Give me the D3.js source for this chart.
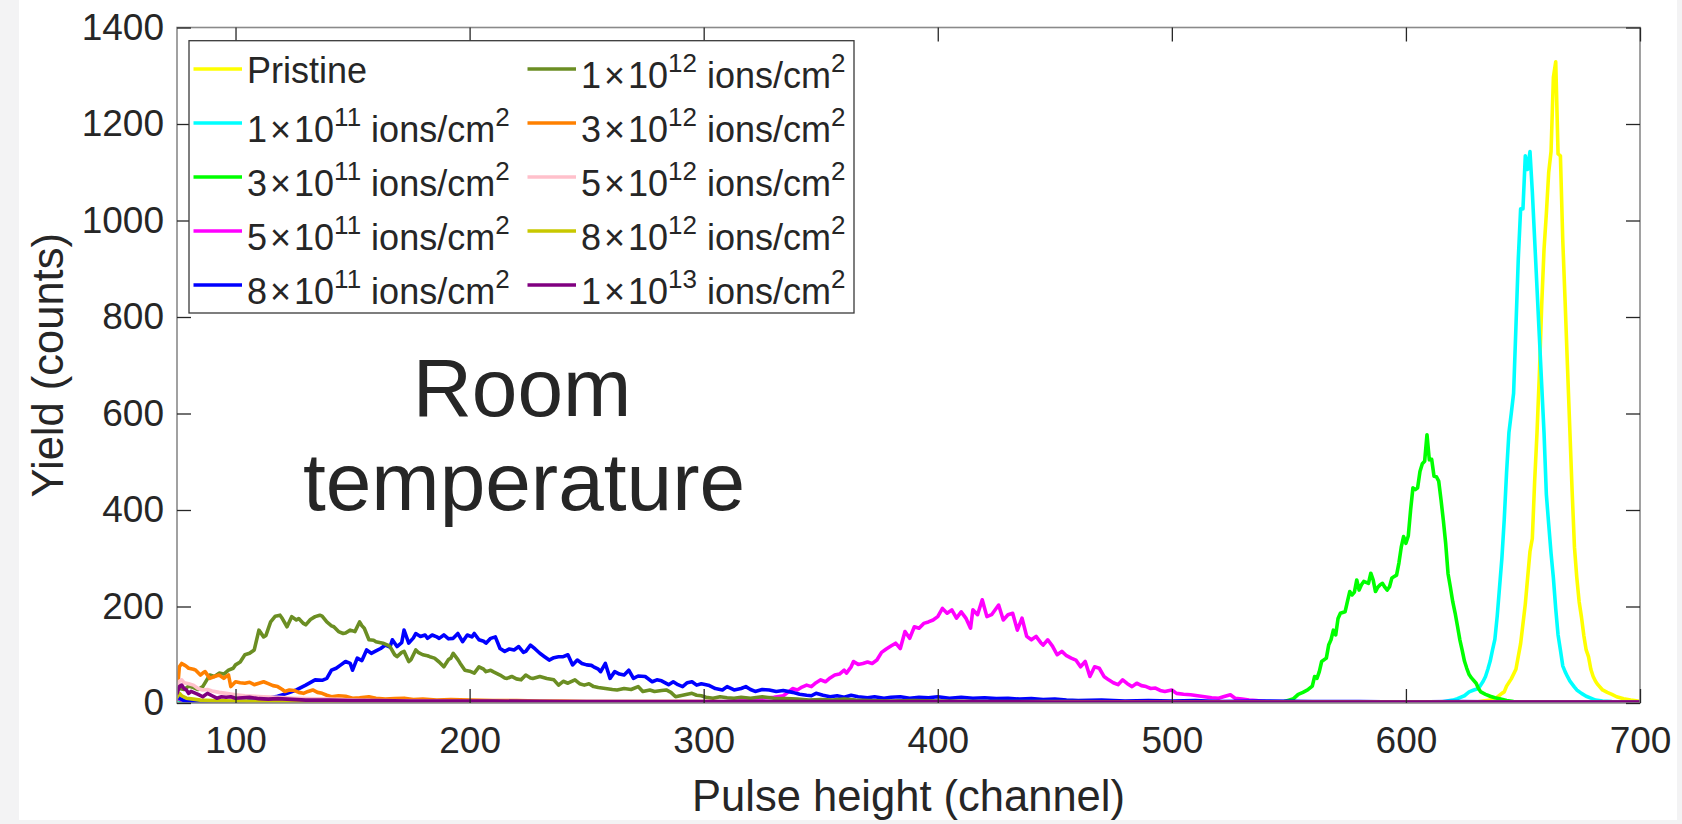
<!DOCTYPE html>
<html>
<head>
<meta charset="utf-8">
<script src="https://cdn.jsdelivr.net/npm/d3@7"></script>
<style>
  html, body { margin: 0; padding: 0; background: #f3f3f4; }
  svg { display: block; }
  text { font-family: "Liberation Sans", Arial, Helvetica, sans-serif; fill: #262626; }
</style>
</head>
<body>
<svg id="chart" width="1682" height="824"></svg>
<script>
// ---------------- DATA ----------------
const xTicks = [100, 200, 300, 400, 500, 600, 700];
const yTicks = [0, 200, 400, 600, 800, 1000, 1200, 1400];
const xDomain = [75, 700];
const yDomain = [0, 1400];

const seriesNames = ["Pristine", "1e11", "3e11", "5e11", "8e11", "1e12", "3e12", "5e12", "8e12", "1e13"];
const seriesColors = ["#ffff00", "#00ffff", "#00ff00", "#ff00ff", "#0000ff", "#6b8e23", "#ff8000", "#ffc0cb", "#c8c800", "#800080"];
// legend labels: [mantissa, exponent] (null => plain text)
const legendMant = [null, "1", "3", "5", "8", "1", "3", "5", "8", "1"];
const legendExp = [null, "11", "11", "11", "11", "12", "12", "12", "12", "13"];

const pristine = [[75,8],[77,4],[80,2],[100,1],[200,1],[300,1],[400,1],[500,1],[600,1],[630,2],[636,6],[639,12],[641,20],[642,23],[643,35],[645,50],[647,70],[649,123],[651,205],[652,260],[653,314],[654,341],[655,460],[656,560],[657,680],[658,824],[659,940],[660,1015],[661,1100],[662,1143],[663,1297],[664,1329],[665,1138],[666,1134],[667,960],[668,833],[669,700],[670,569],[671,440],[672,323],[673,260],[674,210],[675,178],[676,140],[677,110],[678,96],[679,70],[680,55],[681,45],[682,38],[684,27],[686,22],[688,18],[690,13],[693,9],[696,6],[699,4],[700,3]];

const ions1e11 = [[75,8],[76,5],[78,2],[90,1],[200,1],[300,1],[400,1],[500,1],[600,1],[615,2],[620,6],[622,9],[625,15],[627,23],[629,27],[631,30],[633,45],[634,55],[635,70],[636,87],[637,110],[638,132],[639,180],[640,240],[641,300],[642,380],[643,478],[644,560],[645,600],[646,642],[647,780],[648,920],[649,1024],[650,1024],[651,1134],[652,1106],[653,1143],[654,1060],[655,960],[656,860],[657,760],[658,660],[659,560],[660,432],[661,370],[662,310],[663,259],[664,195],[665,141],[666,110],[667,77],[668,65],[669,55],[670,46],[672,33],[673,27],[675,20],[677,14],[679,10],[681,6],[684,4],[688,3],[700,2]];

const ions3e11 = [[75,10],[77,5],[80,2],[100,1],[200,1],[300,1],[400,1],[500,1],[540,1],[545,2],[548,3],[550,6],[552,9],[554,18],[556,22],[558,27],[560,35],[561,55],[562,51],[563,65],[564,86],[566,93],[567,120],[568,131],[569,151],[570,141],[571,175],[572,186],[574,189],[575,210],[576,231],[577,224],[578,230],[579,255],[580,234],[581,245],[582,252],[584,248],[585,269],[586,255],[587,231],[588,240],[589,245],[590,248],[591,240],[592,234],[593,241],[594,259],[595,262],[596,265],[597,290],[598,323],[599,345],[600,331],[601,346],[602,400],[603,446],[604,442],[605,446],[606,480],[607,496],[608,501],[609,556],[610,504],[611,505],[612,470],[613,469],[614,460],[615,421],[616,378],[617,330],[618,268],[619,240],[620,210],[621,187],[622,160],[623,132],[624,110],[625,87],[626,72],[627,59],[628,52],[630,41],[631,30],[632,23],[634,18],[636,14],[638,11],[640,9],[643,5],[646,3],[650,2],[700,1]];

const ions5e11 = [[75,10],[77,6],[80,3],[90,2],[100,1],[200,1],[300,2],[310,3],[314,4],[320,6],[325,10],[330,12],[334,15],[336,22],[338,30],[340,27],[342,33],[344,37],[346,34],[348,42],[350,48],[352,44],[354,52],[356,58],[358,60],[360,68],[361,62],[363,75],[364,86],[366,80],[368,82],[370,85],[372,82],[374,89],[376,105],[378,112],[380,118],[382,124],[384,113],[386,148],[388,134],[390,158],[392,155],[394,165],[396,168],[398,172],[400,179],[402,196],[404,186],[406,193],[408,176],[410,189],[412,176],[414,155],[415,193],[417,183],[419,214],[421,179],[423,183],[426,203],[428,172],[430,183],[432,186],[434,151],[436,176],[438,138],[440,131],[442,138],[444,125],[445,120],[447,131],[449,118],[451,100],[453,107],[455,98],[457,93],[459,89],[461,75],[463,86],[465,55],[467,75],[469,72],[471,55],[473,48],[475,42],[477,38],[479,48],[481,40],[483,34],[485,41],[487,36],[489,34],[491,30],[493,31],[495,26],[497,24],[500,27],[502,20],[505,18],[508,17],[511,15],[514,13],[517,11],[520,10],[522,13],[525,17],[527,10],[530,8],[533,6],[536,5],[540,3],[545,2],[550,1],[700,1]];

const ions8e11 = [[75,15],[76,10],[78,5],[80,3],[85,2],[90,2],[95,2],[100,3],[105,4],[110,6],[114,10],[118,14],[122,20],[126,27],[130,37],[134,48],[137,47],[139,51],[141,68],[143,72],[145,79],[147,86],[149,82],[150,68],[152,93],[154,88],[156,110],[158,103],[160,108],[162,113],[164,120],[166,116],[167,131],[169,117],[171,125],[172,151],[174,124],[176,135],[177,144],[179,138],[181,141],[182,134],[184,141],[186,137],[187,134],[189,141],[191,133],[193,134],[195,144],[197,127],[199,141],[201,137],[202,144],[204,131],[206,128],[207,124],[209,134],[211,137],[213,113],[215,107],[217,112],[219,110],[221,117],[223,105],[224,107],[226,120],[228,112],[230,103],[232,96],[234,89],[236,94],[238,96],[240,96],[242,100],[244,79],[246,89],[248,82],[250,79],[252,78],[253,75],[255,70],[256,65],[258,82],[260,51],[262,65],[264,60],[266,58],[268,68],[270,51],[272,56],[275,55],[278,44],[280,48],[282,46],[285,38],[287,44],[289,38],[291,34],[293,42],[295,44],[297,37],[299,40],[302,37],[305,30],[308,27],[310,34],[313,27],[316,30],[318,34],[320,28],[322,24],[325,28],[328,27],[331,24],[334,26],[338,22],[341,18],[344,16],[346,15],[348,20],[351,16],[354,13],[357,15],[360,12],[363,16],[366,13],[370,11],[373,13],[377,10],[380,12],[384,13],[388,10],[392,12],[396,11],[400,13],[405,10],[410,12],[415,10],[420,11],[425,9],[430,10],[435,8],[440,9],[445,7],[450,8],[455,6],[460,5],[470,6],[480,4],[490,5],[500,4],[510,5],[520,3],[540,4],[560,3],[580,3],[600,2],[620,3],[650,2],[680,2],[700,2]];

const ions1e12 = [[75,40],[76,30],[78,28],[80,35],[82,32],[84,28],[86,34],[88,50],[89,58],[91,55],[93,62],[95,60],[97,68],[99,72],[100,79],[102,85],[104,100],[106,103],[108,110],[110,151],[112,137],[113,140],[115,168],[117,180],[119,182],[120,175],[122,158],[124,179],[126,172],[127,175],[129,165],[130,162],[132,173],[134,179],[136,182],[137,180],[139,168],[141,160],[142,158],[144,148],[146,144],[147,145],[149,151],[151,148],[153,168],[154,160],[155,155],[157,131],[159,130],[160,127],[162,125],[163,124],[165,120],[166,117],[168,100],[169,96],[171,105],[172,107],[174,86],[175,90],[177,110],[178,105],[180,100],[182,98],[183,96],[185,93],[187,85],[189,75],[191,90],[192,93],[193,103],[195,90],[196,82],[198,68],[200,66],[202,62],[204,75],[206,70],[207,65],[209,68],[210,65],[213,58],[215,52],[216,51],[218,55],[220,50],[222,48],[224,58],[226,52],[227,51],[230,55],[233,51],[236,48],[238,37],[240,45],[242,41],[245,48],[247,40],[249,37],[251,40],[253,34],[255,32],[258,30],[261,28],[263,27],[266,30],[269,28],[272,34],[274,24],[277,27],[279,24],[282,26],[284,27],[286,22],[288,13],[290,15],[292,17],[295,20],[297,16],[299,15],[301,12],[304,10],[307,13],[310,11],[313,10],[316,12],[320,10],[325,13],[330,10],[335,9],[340,8],[345,6],[350,7],[355,6],[360,8],[365,6],[370,5],[380,4],[390,5],[400,4],[420,3],[450,3],[500,2],[550,2],[600,2],[650,1],[700,1]];

const ions3e12 = [[75,15],[76,75],[77,82],[78,79],[79,76],[80,72],[82,70],[83,68],[85,58],[86,62],[87,65],[89,51],[91,55],[93,58],[95,51],[96,55],[97,58],[98,34],[100,44],[102,42],[104,41],[106,43],[108,38],[110,41],[112,44],[114,40],[116,36],[118,34],[120,28],[121,24],[123,27],[125,26],[127,22],[129,20],[131,24],[133,27],[135,22],[137,20],[139,16],[141,13],[144,15],[147,14],[150,10],[153,11],[157,13],[160,10],[164,8],[168,9],[172,10],[176,7],[180,8],[186,6],[192,7],[200,6],[210,5],[220,5],[230,4],[240,4],[250,3],[270,3],[300,3],[330,2],[400,2],[500,2],[600,1],[700,1]];

const ions5e12 = [[75,30],[76,45],[77,48],[78,42],[80,40],[82,37],[84,30],[86,27],[88,28],[90,25],[93,22],[96,20],[100,17],[104,15],[108,14],[112,13],[118,12],[125,10],[130,9],[140,8],[150,6],[160,5],[180,4],[200,3],[250,3],[300,2],[400,2],[500,1],[600,1],[700,1]];

const ions8e12 = [[75,12],[76,20],[77,15],[79,10],[82,8],[85,6],[90,5],[100,4],[120,3],[150,3],[200,2],[300,2],[400,1],[700,1]];

const ions1e13 = [[75,20],[76,34],[77,37],[78,30],[79,27],[80,20],[81,24],[82,22],[84,18],[86,13],[88,20],[90,15],[92,10],[94,13],[96,12],[98,13],[100,10],[103,11],[106,12],[110,9],[114,8],[118,9],[122,8],[126,7],[130,6],[140,6],[150,5],[160,5],[175,4],[190,4],[210,4],[240,3],[280,3],[330,3],[400,3],[450,2],[500,2],[550,2],[600,2],[650,2],[700,2]];

const allSeries = [pristine, ions1e11, ions3e11, ions5e11, ions8e11, ions1e12, ions3e12, ions5e12, ions8e12, ions1e13];

// ---------------- DRAW ----------------
const svg = d3.select("#chart");
svg.append("rect").attr("x", 19).attr("y", 0).attr("width", 1658).attr("height", 820).attr("fill", "#ffffff");

const L = 177, R = 1640, T = 27.5, B = 703;
const x = d3.scaleLinear().domain(xDomain).range([L, R]);
const y = d3.scaleLinear().domain(yDomain).range([B, T]);

const plot = svg.append("g");
plot.append("defs").append("clipPath").attr("id", "clip")
  .append("rect").attr("x", L).attr("y", T).attr("width", R - L).attr("height", B - T);

const line = d3.line().x(d => x(d[0])).y(d => y(d[1]));
const lines = plot.append("g").attr("clip-path", "url(#clip)");
allSeries.forEach((s, i) => {
  lines.append("path").datum(s).attr("d", line)
    .attr("fill", "none").attr("stroke", seriesColors[i])
    .attr("stroke-width", 3.6).attr("stroke-linejoin", "round").attr("stroke-linecap", "round");
});

// box
plot.append("rect").attr("x", L).attr("y", T).attr("width", R - L).attr("height", B - T)
  .attr("fill", "none").attr("stroke", "#8a8a8a").attr("stroke-width", 1.6);

const tickLen = 14;
function styleAxis(g, labels) {
  g.select(".domain").remove();
  g.selectAll(".tick line").attr("stroke", "#262626").attr("stroke-width", 1.3);
  g.selectAll(".tick text").attr("font-size", labels ? 37 : 0).attr("fill", "#262626")
    .style("font-family", '"Liberation Sans", Arial, sans-serif');
  if (!labels) g.selectAll(".tick text").remove();
}
const xb = svg.append("g").attr("transform", `translate(0,${B})`)
  .call(d3.axisBottom(x).tickValues(xTicks).tickSize(-tickLen).tickPadding(24).tickFormat(d3.format("d")));
styleAxis(xb, true);
xb.selectAll(".tick text").attr("dy", "0.71em");
const xt = svg.append("g").attr("transform", `translate(0,${T})`)
  .call(d3.axisTop(x).tickValues(xTicks).tickSize(-tickLen));
styleAxis(xt, false);
const yl = svg.append("g").attr("transform", `translate(${L},0)`)
  .call(d3.axisLeft(y).tickValues(yTicks).tickSize(-tickLen).tickPadding(13).tickFormat(d3.format("d")));
styleAxis(yl, true);
const yr = svg.append("g").attr("transform", `translate(${R},0)`)
  .call(d3.axisRight(y).tickValues(yTicks).tickSize(-tickLen));
styleAxis(yr, false);

// axis titles
svg.append("text").attr("x", (L + R) / 2).attr("y", 811).attr("text-anchor", "middle")
  .attr("font-size", 43.5).text("Pulse height (channel)");
svg.append("text").attr("transform", `translate(63,${(T + B) / 2}) rotate(-90)`).attr("text-anchor", "middle")
  .attr("font-size", 43.5).text("Yield (counts)");

// annotation
svg.append("text").attr("x", 522).attr("y", 416).attr("text-anchor", "middle").attr("font-size", 82).text("Room");
svg.append("text").attr("x", 524).attr("y", 510).attr("text-anchor", "middle").attr("font-size", 82).text("temperature");

// legend
const leg = svg.append("g");
leg.append("rect").attr("x", 189).attr("y", 40.7).attr("width", 665).attr("height", 272.3)
  .attr("fill", "#ffffff").attr("stroke", "#3a3a3a").attr("stroke-width", 1.3);
const colX = [193.5, 527.5];
const rowY0 = 69, rowDY = 54;
seriesNames.forEach((n, i) => {
  const col = Math.floor(i / 5), row = i % 5;
  const cy = rowY0 + row * rowDY;
  const lx = colX[col];
  leg.append("line").attr("x1", lx).attr("x2", lx + 48.5).attr("y1", cy).attr("y2", cy)
    .attr("stroke", seriesColors[i]).attr("stroke-width", 3.6);
  const t = leg.append("text").attr("x", lx + 53.5).attr("font-size", 36);
  if (legendMant[i] === null) {
    t.attr("y", cy + 14).text(n);
  } else {
    t.attr("y", cy + 18.5);
    t.append("tspan").text(legendMant[i]);
    t.append("tspan").attr("dx", 3).text("\u00d7");
    t.append("tspan").attr("dx", 3).text("10");
    t.append("tspan").attr("font-size", 26).attr("dy", -16).text(legendExp[i]);
    t.append("tspan").attr("dy", 16).text(" ions/cm");
    t.append("tspan").attr("font-size", 26).attr("dy", -16).text("2");
  }
});
</script>
</body>
</html>
